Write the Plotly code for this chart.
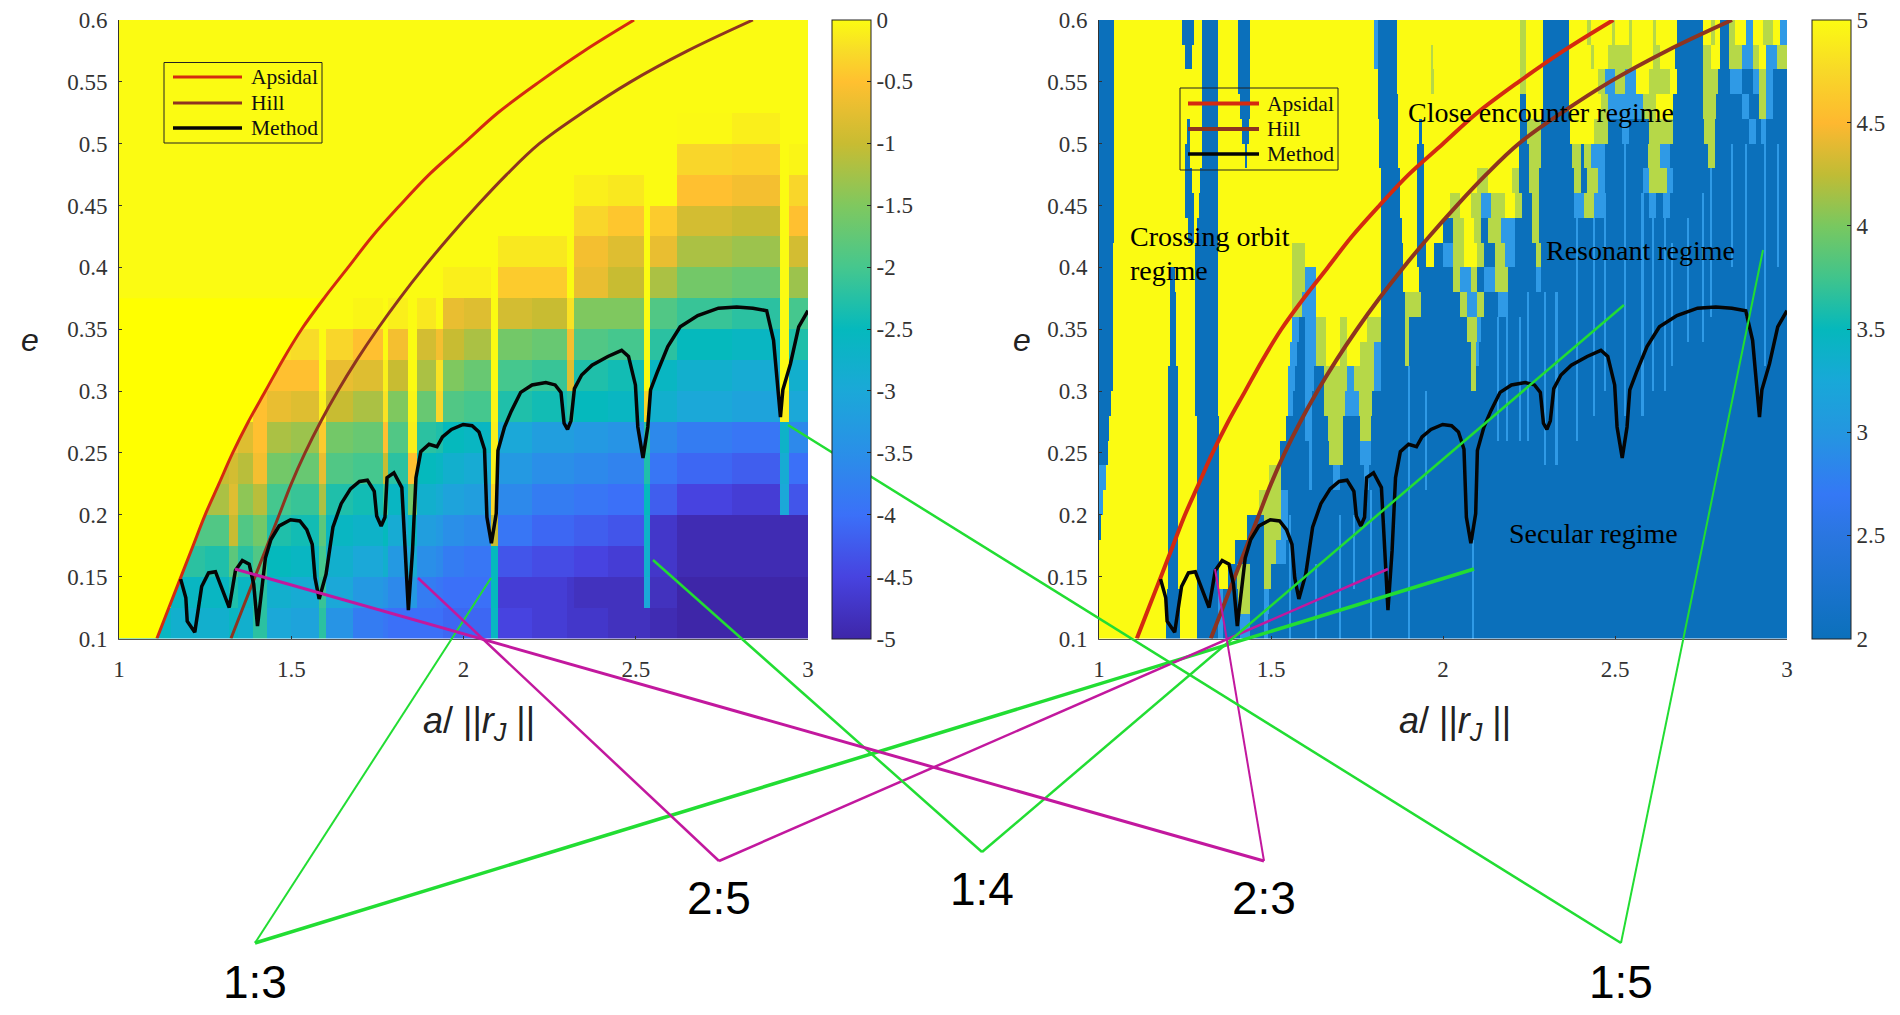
import plotly.graph_objects as go

WIDTH = 1900
HEIGHT = 1015

# boundary curves
APSIDAL_E = [0.1, 0.125, 0.15, 0.175, 0.2, 0.225, 0.25, 0.275, 0.3, 0.325, 0.35, 0.375, 0.4, 0.425, 0.45, 0.475, 0.5, 0.525, 0.55, 0.575, 0.6]
APSIDAL_A = [1.11, 1.145, 1.18, 1.215, 1.25, 1.29, 1.33, 1.375, 1.425, 1.475, 1.53, 1.595, 1.665, 1.735, 1.815, 1.9, 2.0, 2.1, 2.22, 2.35, 2.495]
HILL_E = APSIDAL_E
HILL_A = [1.325, 1.36, 1.395, 1.43, 1.465, 1.5, 1.54, 1.585, 1.635, 1.69, 1.75, 1.815, 1.885, 1.96, 2.04, 2.125, 2.22, 2.345, 2.485, 2.65, 2.84]

METHOD_A = [1.179, 1.194, 1.198, 1.22, 1.24, 1.26, 1.28, 1.302, 1.32, 1.338, 1.358, 1.378, 1.391, 1.402, 1.425, 1.441, 1.465, 1.498, 1.525, 1.545,
            1.561, 1.569, 1.581, 1.601, 1.621, 1.645, 1.672, 1.698, 1.721, 1.741, 1.748, 1.761, 1.772, 1.778, 1.798, 1.821, 1.83, 1.84, 1.852, 1.862,
            1.876, 1.9, 1.923, 1.939, 1.965, 1.999, 2.025, 2.045, 2.061, 2.068, 2.081, 2.095, 2.1, 2.119, 2.139, 2.166, 2.199, 2.239, 2.266, 2.283,
            2.292, 2.302, 2.312, 2.322, 2.343, 2.373, 2.419, 2.459, 2.479, 2.499, 2.506, 2.521, 2.535, 2.543, 2.562, 2.593, 2.629, 2.68, 2.74, 2.793,
            2.84, 2.88, 2.9, 2.907, 2.92, 2.927, 2.949, 2.973, 3.0]
METHOD_E = [0.148, 0.133, 0.114, 0.105, 0.142, 0.153, 0.154, 0.138, 0.125, 0.155, 0.163, 0.16, 0.144, 0.11, 0.165, 0.18, 0.191, 0.196, 0.195, 0.188,
            0.176, 0.149, 0.132, 0.152, 0.19, 0.209, 0.221, 0.227, 0.228, 0.219, 0.199, 0.191, 0.198, 0.23, 0.234, 0.222, 0.171, 0.123, 0.171, 0.23,
            0.251, 0.257, 0.255, 0.263, 0.269, 0.273, 0.272, 0.267, 0.253, 0.198, 0.177, 0.201, 0.252, 0.271, 0.284, 0.299, 0.305, 0.307, 0.305, 0.299,
            0.274, 0.269, 0.276, 0.302, 0.313, 0.321, 0.328, 0.333, 0.328, 0.305, 0.271, 0.246, 0.271, 0.301, 0.315, 0.336, 0.352, 0.361, 0.367, 0.368,
            0.367, 0.365, 0.341, 0.319, 0.279, 0.301, 0.322, 0.352, 0.365]

# left map: coarse grid, one row per line, bottom row first
LEFT_A = [1.0, 1.15, 1.25, 1.32, 1.345, 1.39, 1.43, 1.5, 1.58, 1.6, 1.68, 1.765, 1.78, 1.84, 1.865, 1.92, 1.94, 2.0, 2.08, 2.1, 2.2, 2.3, 2.32, 2.42, 2.525, 2.54, 2.62, 2.78, 2.92, 2.945, 3.0]
LEFT_E = [0.1, 0.125, 0.15, 0.175, 0.2, 0.225, 0.25, 0.275, 0.3, 0.325, 0.35, 0.375, 0.4, 0.425, 0.45, 0.475, 0.5, 0.525, 0.55, 0.575, 0.6]
LEFT_Z = [
    [-2.6, -2.8, -2.8, -2.6, -2.8, -2.2, -3.0, -3.1, -2.2, -3.4, -3.8, -3.9, -4.0, -4.0, -4.0, -4.0, -4.1, -4.1, -2.6, -4.5, -4.6, -4.7, -4.7, -4.8, -4.8, -4.9, -5.0, -5.0, -5.0, -5.0],
    [0, -2.6, -2.6, -2.3, -2.6, -2.2, -2.8, -2.9, -2.1, -3.0, -3.3, -3.4, -3.6, -3.3, -3.8, -3.9, -4.0, -4.0, -2.5, -4.6, -4.6, -4.7, -4.8, -4.8, -3.0, -4.8, -5.0, -5.0, -5.0, -5.0],
    [0, -2.2, -2.3, -1.8, -2.2, -1.9, -2.5, -2.6, -2.0, -2.8, -3.0, -2.8, -3.3, -2.9, -3.5, -3.6, -3.8, -3.9, -2.5, -4.3, -4.4, -4.4, -4.5, -4.6, -2.8, -4.7, -4.9, -4.9, -4.9, -4.9],
    [0, -1.9, -1.9, -1.0, -1.9, -1.6, -2.3, -2.4, -1.8, -2.6, -2.7, -2.5, -2.9, -2.6, -3.2, -3.3, -3.5, -3.6, -1.0, -3.9, -4.1, -4.1, -4.2, -4.3, -2.7, -4.7, -4.9, -4.9, -4.9, -4.9],
    [0, 0, -1.2, -0.8, -1.4, -1.1, -2.0, -2.1, -1.2, -2.3, -2.4, -2.0, -2.6, -1.6, -2.8, -2.9, -3.1, -3.2, -0.3, -3.6, -3.8, -3.8, -3.9, -4.0, -2.5, -4.2, -4.5, -4.6, -3.0, -4.3],
    [0, 0, -1.0, -0.9, -1.1, -0.6, -1.6, -1.7, -0.7, -1.9, -2.0, -1.0, -2.2, -0.5, -2.5, -2.6, -2.8, -2.9, -0.1, -3.3, -3.5, -3.5, -3.6, -3.7, -2.3, -3.9, -4.1, -4.2, -2.9, -4.0],
    [0, 0, 0, -0.6, -0.8, -0.5, -1.2, -1.3, -0.4, -1.6, -1.7, -0.5, -1.9, -0.1, -2.2, -2.3, -2.5, -2.6, -0.1, -3.0, -3.2, -3.2, -3.3, -3.4, -2.2, -3.6, -3.8, -3.9, -2.7, -3.6],
    [0, 0, 0, 0, 0, -0.5, -0.7, -0.8, -0.1, -1.0, -1.2, -0.2, -1.5, -0.05, -1.7, -0.3, -1.9, -2.0, -0.05, -2.3, -2.4, -2.2, -2.5, -2.6, -0.3, -2.8, -3.0, -3.1, -0.1, -3.0],
    [0, 0, 0, 0, 0, 0, -0.5, -0.5, 0, -0.7, -0.8, -0.1, -1.0, 0, -1.2, -0.2, -1.5, -1.7, 0, -2.0, -2.1, -0.8, -2.3, -2.4, 0, -2.6, -2.8, -2.9, 0, -2.8],
    [0, 0, 0, 0, 0, 0, -0.2, -0.25, 0, -0.3, -0.5, 0, -0.6, 0, -0.9, -0.6, -1.0, -1.2, 0, -1.6, -1.7, -0.6, -1.9, -2.0, 0, -2.2, -2.5, -2.6, 0, -2.3],
    [0, 0, 0, 0, 0, 0, 0, 0, 0, 0, -0.05, 0, -0.1, 0, -0.15, 0, -0.7, -0.8, 0, -0.9, -1.0, -0.2, -1.5, -1.5, 0, -1.9, -2.1, -2.2, 0, -2.0],
    [0, 0, 0, 0, 0, 0, 0, 0, 0, 0, 0, 0, 0, 0, 0, 0, -0.1, -0.1, 0, -0.4, -0.4, 0, -0.7, -1.0, 0, -1.2, -1.6, -1.7, 0, -1.3],
    [0, 0, 0, 0, 0, 0, 0, 0, 0, 0, 0, 0, 0, 0, 0, 0, 0, 0, 0, -0.15, -0.15, 0, -0.6, -0.8, 0, -0.7, -1.2, -1.3, 0, -0.9],
    [0, 0, 0, 0, 0, 0, 0, 0, 0, 0, 0, 0, 0, 0, 0, 0, 0, 0, 0, 0, 0, 0, -0.3, -0.45, 0, -0.4, -0.9, -1.0, 0, -0.5],
    [0, 0, 0, 0, 0, 0, 0, 0, 0, 0, 0, 0, 0, 0, 0, 0, 0, 0, 0, 0, 0, 0, -0.1, -0.15, 0, 0, -0.5, -0.6, 0, -0.3],
    [0, 0, 0, 0, 0, 0, 0, 0, 0, 0, 0, 0, 0, 0, 0, 0, 0, 0, 0, 0, 0, 0, 0, 0, 0, 0, -0.3, -0.35, 0, -0.05],
    [0, 0, 0, 0, 0, 0, 0, 0, 0, 0, 0, 0, 0, 0, 0, 0, 0, 0, 0, 0, 0, 0, 0, 0, 0, 0, -0.02, -0.1, 0, 0],
    [0] * 30,
    [0] * 30,
    [0] * 30,
]

# right map levels: deep blue, light blue, yellow-green speckle, yellow
B, L, G, Y = 2, 3, 4, 5

# right map: each row lists (a where the run ends, level), top row first, B after the last run
RIGHT_E = [0.6, 0.58, 0.56, 0.54, 0.52, 0.5, 0.48, 0.46, 0.44, 0.42, 0.4, 0.38, 0.36, 0.34, 0.32, 0.3, 0.28, 0.26, 0.24, 0.22, 0.2, 0.18, 0.16, 0.14, 0.12, 0.1]
RIGHT_ROWS = [
    [(1.045, B), (1.24, Y), (1.275, B), (1.3, Y), (1.345, B), (1.405, Y), (1.44, B), (1.8, Y), (1.81, L), (1.865, B), (2.225, Y), (2.24, G), (2.29, Y), (2.365, B), (2.42, Y), (2.43, G), (2.49, Y), (2.5, G), (2.54, Y), (2.55, G), (2.61, Y), (2.62, G), (2.68, Y), (2.757, B), (2.78, Y), (2.79, G), (2.805, Y), (2.83, B), (2.85, G), (2.88, Y), (2.9, L), (2.93, Y), (2.96, G), (2.98, Y), (3.0, L)],
    [(1.045, B), (1.25, Y), (1.27, B), (1.3, Y), (1.345, B), (1.405, Y), (1.44, B), (1.8, Y), (1.81, L), (1.865, B), (1.965, Y), (1.972, G), (2.225, Y), (2.24, G), (2.29, Y), (2.365, B), (2.43, Y), (2.44, G), (2.48, Y), (2.55, G), (2.61, Y), (2.63, G), (2.675, Y), (2.757, B), (2.78, G), (2.805, Y), (2.83, B), (2.87, G), (2.9, L), (2.92, G), (2.94, Y), (2.97, L), (3.0, G)],
    [(1.045, B), (1.3, Y), (1.345, B), (1.405, Y), (1.44, B), (1.81, Y), (1.865, B), (1.965, Y), (1.975, G), (2.225, Y), (2.24, G), (2.29, Y), (2.365, B), (2.45, Y), (2.47, G), (2.5, L), (2.53, G), (2.56, L), (2.6, Y), (2.66, G), (2.68, Y), (2.757, B), (2.8, G), (2.835, B), (2.87, L), (2.9, B), (2.92, L), (2.94, G), (2.96, L), (3.0, B)],
    [(1.045, B), (1.3, Y), (1.345, B), (1.41, Y), (1.44, B), (1.81, Y), (1.87, B), (2.225, Y), (2.24, B), (2.29, Y), (2.365, B), (2.46, Y), (2.48, G), (2.58, L), (2.62, G), (2.67, Y), (2.757, B), (2.795, G), (2.87, B), (2.89, L), (2.92, B), (2.94, G), (2.96, L)],
    [(1.045, B), (1.255, Y), (1.265, B), (1.3, Y), (1.345, B), (1.415, Y), (1.435, B), (1.815, Y), (1.87, B), (1.93, Y), (1.94, B), (2.225, Y), (2.245, B), (2.285, G), (2.37, B), (2.44, Y), (2.48, G), (2.52, B), (2.54, L), (2.6, B), (2.62, G), (2.67, G), (2.76, B), (2.79, G), (2.89, B), (2.91, L), (2.925, B), (2.94, L)],
    [(1.045, B), (1.25, Y), (1.265, B), (1.3, Y), (1.345, B), (1.425, Y), (1.43, B), (1.815, Y), (1.87, B), (1.925, Y), (1.945, B), (2.22, Y), (2.25, B), (2.285, G), (2.375, B), (2.4, G), (2.41, B), (2.43, G), (2.47, L), (2.595, B), (2.63, G), (2.66, L), (2.77, B), (2.79, G), (2.8, B)],
    [(1.045, B), (1.25, Y), (1.27, B), (1.295, Y), (1.345, B), (1.82, Y), (1.875, B), (1.925, Y), (1.945, B), (2.1, Y), (2.13, G), (2.2, Y), (2.22, G), (2.25, B), (2.28, G), (2.38, B), (2.4, G), (2.42, B), (2.45, G), (2.47, L), (2.58, B), (2.6, L), (2.65, G), (2.67, L)],
    [(1.045, B), (1.25, Y), (1.275, B), (1.29, Y), (1.345, B), (1.82, Y), (1.875, B), (1.925, Y), (1.945, B), (2.02, Y), (2.05, G), (2.08, Y), (2.11, G), (2.14, L), (2.18, G), (2.21, Y), (2.23, G), (2.26, B), (2.28, G), (2.38, B), (2.41, L), (2.44, G), (2.47, L), (2.6, B), (2.62, L), (2.64, B), (2.66, L)],
    [(1.045, B), (1.26, Y), (1.275, B), (1.285, Y), (1.345, B), (1.82, Y), (1.88, B), (1.925, Y), (1.945, B), (2.0, Y), (2.03, B), (2.06, G), (2.09, Y), (2.11, G), (2.13, B), (2.17, G), (2.21, L), (2.26, B), (2.28, G)],
    [(1.04, B), (1.28, Y), (1.345, B), (1.56, Y), (1.6, G), (1.63, Y), (1.82, Y), (1.885, B), (1.925, Y), (1.95, B), (1.975, Y), (2.0, B), (2.03, L), (2.06, G), (2.1, Y), (2.12, G), (2.15, B), (2.18, G), (2.21, L), (2.27, B), (2.285, G)],
    [(1.04, B), (1.205, Y), (1.22, B), (1.28, Y), (1.345, B), (1.56, Y), (1.6, G), (1.63, L), (1.82, Y), (1.885, B), (1.93, Y), (1.95, B), (2.03, B), (2.05, G), (2.08, L), (2.1, G), (2.12, B), (2.15, L), (2.19, G), (2.27, B), (2.285, L)],
    [(1.04, B), (1.205, Y), (1.225, B), (1.28, Y), (1.345, B), (1.56, Y), (1.59, G), (1.63, L), (1.82, Y), (1.89, B), (1.935, G), (1.95, B), (2.05, B), (2.07, G), (2.1, L), (2.12, G), (2.16, B), (2.19, L)],
    [(1.04, B), (1.205, Y), (1.225, B), (1.28, Y), (1.345, B), (1.56, Y), (1.58, L), (1.6, B), (1.63, L), (1.66, G), (1.7, Y), (1.72, G), (1.78, Y), (1.82, G), (1.89, B), (1.9, G), (1.91, B), (2.07, B), (2.1, G), (2.11, L)],
    [(1.04, B), (1.205, Y), (1.225, B), (1.28, Y), (1.345, B), (1.555, Y), (1.575, L), (1.6, B), (1.63, L), (1.66, G), (1.7, Y), (1.72, G), (1.76, Y), (1.8, G), (1.82, L), (1.89, B), (1.9, G), (1.91, B), (2.08, B), (2.095, G), (2.105, L)],
    [(1.04, B), (1.2, Y), (1.23, B), (1.28, Y), (1.345, B), (1.55, Y), (1.57, L), (1.6, B), (1.625, L), (1.655, B), (1.72, G), (1.74, L), (1.76, G), (1.8, G), (1.82, L), (1.9, B), (2.08, B), (2.095, G)],
    [(1.035, B), (1.2, Y), (1.23, B), (1.28, Y), (1.345, B), (1.55, Y), (1.565, L), (1.6, B), (1.62, L), (1.655, B), (1.715, G), (1.755, L), (1.795, G)],
    [(1.03, B), (1.2, Y), (1.23, B), (1.285, Y), (1.35, B), (1.545, Y), (1.6, B), (1.62, L), (1.665, B), (1.71, G), (1.76, B), (1.79, G)],
    [(1.025, B), (1.2, Y), (1.23, B), (1.285, Y), (1.35, B), (1.525, Y), (1.61, B), (1.62, L), (1.67, B), (1.71, G), (1.76, B), (1.79, L)],
    [(1.02, L), (1.2, Y), (1.23, B), (1.285, Y), (1.35, B), (1.495, Y), (1.53, G), (1.61, B), (1.62, L), (1.68, B), (1.7, L), (1.77, B), (1.785, L)],
    [(1.012, L), (1.2, Y), (1.23, B), (1.285, Y), (1.35, B), (1.465, Y), (1.53, G), (1.55, L)],
    [(1.005, B), (1.2, Y), (1.23, B), (1.285, Y), (1.35, B), (1.43, Y), (1.48, B), (1.53, G), (1.55, L)],
    [(1.2, Y), (1.23, B), (1.285, Y), (1.35, B), (1.395, Y), (1.48, B), (1.515, G), (1.545, L)],
    [(1.2, Y), (1.23, B), (1.285, Y), (1.35, B), (1.375, Y), (1.4, B), (1.44, G), (1.48, B), (1.5, G)],
    [(1.197, Y), (1.235, B), (1.285, Y), (1.345, B), (1.36, L), (1.405, B), (1.44, G), (1.48, B), (1.495, L)],
    [(1.195, Y), (1.235, B), (1.285, Y), (1.345, B), (1.36, L), (1.41, B), (1.44, L), (1.48, B), (1.49, L)],
]

# thin light rays on the right map
RAY_A = [1.555, 1.63, 1.7, 1.74, 1.79, 1.9, 1.95, 2.088, 2.16, 2.185, 2.224, 2.248, 2.297, 2.33, 2.39, 2.44, 2.47, 2.53, 2.58, 2.61, 2.645, 2.665, 2.713, 2.757, 2.78, 2.84, 2.88, 2.936, 2.975]
RAY_LO = [0.1, 0.1, 0.1, 0.14, 0.1, 0.1, 0.22, 0.11, 0.27, 0.27, 0.257, 0.257, 0.231, 0.237, 0.26, 0.28, 0.3, 0.285, 0.29, 0.31, 0.3, 0.322, 0.34, 0.34, 0.36, 0.4, 0.36, 0.322, 0.4]
RAY_HI = [0.2, 0.16, 0.2, 0.2, 0.22, 0.32, 0.3, 0.17, 0.36, 0.38, 0.36, 0.38, 0.38, 0.38, 0.44, 0.46, 0.46, 0.5, 0.46, 0.46, 0.46, 0.42, 0.44, 0.46, 0.52, 0.5, 0.5, 0.5, 0.5]
RAY_HALF_WIDTH = 0.003

AXIS_X = [1, 1.5, 2, 2.5, 3]
AXIS_X_TEXT = ["1", "1.5", "2", "2.5", "3"]
AXIS_Y = [0.1, 0.15, 0.2, 0.25, 0.3, 0.35, 0.4, 0.45, 0.5, 0.55, 0.6]
AXIS_Y_TEXT = ["0.1", "0.15", "0.2", "0.25", "0.3", "0.35", "0.4", "0.45", "0.5", "0.55", "0.6"]
LEFT_BAR_TICKS = [0, -0.5, -1, -1.5, -2, -2.5, -3, -3.5, -4, -4.5, -5]
LEFT_BAR_TEXT = ["0", "-0.5", "-1", "-1.5", "-2", "-2.5", "-3", "-3.5", "-4", "-4.5", "-5"]
RIGHT_BAR_TICKS = [2, 2.5, 3, 3.5, 4, 4.5, 5]
RIGHT_BAR_TEXT = ["2", "2.5", "3", "3.5", "4", "4.5", "5"]

LEFT_COLORS = [[0, "#3e26a8"], [0.1, "#4743e0"], [0.2, "#3b70f8"], [0.3, "#2a8fe8"], [0.4, "#1ba8d8"], [0.5, "#05b9bd"],
               [0.6, "#45c78e"], [0.7, "#7fc85f"], [0.8, "#c8bc32"], [0.9, "#ffc030"], [0.95, "#f8dc28"], [1, "#fbfb12"]]
RIGHT_COLORS = [[0, "#0b70bb"], [0.1667, "#2a76e0"], [0.2333, "#3478f5"], [0.3333, "#2496e0"], [0.4167, "#18a8d8"], [0.5, "#05b8bc"],
                [0.5833, "#40c48c"], [0.6667, "#78c860"], [0.75, "#c0bc35"], [0.8333, "#feb830"], [0.9167, "#f8d828"], [1, "#fbfb12"]]
# the speckled zones average to a colour that is not on the bar, so the map has its own four levels
RIGHT_MAP_COLORS = [[0, "#0b70bb"], [0.3333, "#2f9ae6"], [0.6667, "#b6d848"], [1, "#fbfb12"]]

# resonance leaders, page pixels: label, apex, left end, right end, colour, left width, right width
LEADERS = [
    ("1:3", (255, 943), (491, 578), (1474, 569), "#22dd33", 2, 3.5),
    ("2:5", (719, 861), (418, 578), (1388, 569), "#c2189e", 2.5, 2.5),
    ("1:4", (982, 852), (653, 560), (1624, 305), "#22dd33", 2.5, 2.5),
    ("2:3", (1264, 861), (235, 569), (1215, 569), "#c2189e", 3, 2),
    ("1:5", (1621, 943), (788, 425), (1763, 250), "#22dd33", 2.5, 2),
]
LABEL_CENTRES = [(255, 982), (719, 898), (982, 889), (1264, 898), (1621, 982)]

REGIME_TEXT = ["Close encounter regime", "Crossing orbit", "regime", "Resonant regime", "Secular regime"]
REGIME_POS = [(1406, 112), (1128, 236), (1128, 270), (1544, 250), (1507, 533)]

CURVE_NAMES = ["Apsidal", "Hill", "Method"]
CURVE_COLORS = ["#d42a10", "#8e3420", "#050505"]
LEFT_WIDTHS = [3, 3, 3.5]
RIGHT_WIDTHS = [4, 4, 3.5]

# legend boxes, page pixels: box corners, line start, line end, text start, row centres, line widths
LEGEND_BOXES = [
    ((164, 62.5), (322, 143), 173, 242, 248.5, [77, 103, 128], LEFT_WIDTHS),
    ((1180, 88), (1338, 170), 1188, 1259, 1265, [103.5, 129, 154], RIGHT_WIDTHS),
]

SERIF = "Liberation Serif, Times New Roman, serif"


def px(x, y):
    return x / WIDTH, 1 - y / HEIGHT


# build right map grid from the runs
ends = {1.0, 3.0}
for row in RIGHT_ROWS:
    ends.update(end for end, _ in row)
for a in RAY_A:
    ends.update([round(a - RAY_HALF_WIDTH, 4), round(a + RAY_HALF_WIDTH, 4)])
right_a = sorted(ends)

right_z = []
for i in range(len(RIGHT_ROWS) - 1, -1, -1):
    row = RIGHT_ROWS[i]
    e_mid = (RIGHT_E[i] + RIGHT_E[i + 1]) / 2
    cells = []
    for a0, a1 in zip(right_a[:-1], right_a[1:]):
        mid = (a0 + a1) / 2
        value = B
        for end, level in row:
            if mid < end:
                value = level
                break
        if value == B:
            for ray, lo, hi in zip(RAY_A, RAY_LO, RAY_HI):
                if abs(mid - ray) < RAY_HALF_WIDTH and lo <= e_mid <= hi:
                    value = L
        cells.append(value)
    right_z.append(cells)

fig = go.Figure()

bar_style = dict(xanchor="left", y=1 - 638.5 / HEIGHT, yanchor="bottom", len=618.5, lenmode="pixels",
                 thickness=39, thicknessmode="pixels", xpad=0, ypad=0, outlinecolor="#222222", outlinewidth=1,
                 tickmode="array", ticks="inside", ticklen=4, tickcolor="#222222",
                 tickfont=dict(family=SERIF, size=23, color="#333333"))

fig.add_trace(go.Heatmap(
    x=LEFT_A, y=LEFT_E, z=LEFT_Z, xaxis="x", yaxis="y", zmin=-5, zmax=0, colorscale=LEFT_COLORS, hoverinfo="skip",
    colorbar=dict(bar_style, x=832 / WIDTH, tickvals=LEFT_BAR_TICKS, ticktext=LEFT_BAR_TEXT),
))

# pure yellow wedge left of the apsidal curve
wedge_a = [1.0] + [a for a, e in zip(APSIDAL_A, APSIDAL_E) if e <= 0.375] + [1.0]
wedge_e = [0.1] + [e for e in APSIDAL_E if e <= 0.375] + [0.375]
fig.add_trace(go.Scatter(x=wedge_a, y=wedge_e, xaxis="x", yaxis="y", mode="lines", line=dict(width=0), fill="toself",
                         fillcolor="#ffff00", showlegend=False, hoverinfo="skip"))

fig.add_trace(go.Heatmap(
    x=right_a, y=RIGHT_E[::-1], z=right_z, xaxis="x2", yaxis="y2", zmin=2, zmax=5, colorscale=RIGHT_MAP_COLORS, hoverinfo="skip", showscale=False,
))

# colour bar of the right map
fig.add_trace(go.Scatter(
    x=[None], y=[None], xaxis="x2", yaxis="y2", mode="markers", showlegend=False, hoverinfo="skip",
    marker=dict(color=[2], cmin=2, cmax=5, colorscale=RIGHT_COLORS, showscale=True,
                colorbar=dict(bar_style, x=1812 / WIDTH, tickvals=RIGHT_BAR_TICKS, ticktext=RIGHT_BAR_TEXT)),
))

curve_a = [APSIDAL_A, HILL_A, METHOD_A]
curve_e = [APSIDAL_E, HILL_E, METHOD_E]
curve_shape = ["spline", "spline", "linear"]
for xa, ya, widths in [("x", "y", LEFT_WIDTHS), ("x2", "y2", RIGHT_WIDTHS)]:
    for name, a, e, color, lw, shape in zip(CURVE_NAMES, curve_a, curve_e, CURVE_COLORS, widths, curve_shape):
        fig.add_trace(go.Scatter(x=a, y=e, xaxis=xa, yaxis=ya, mode="lines", name=name, showlegend=False,
                                 line=dict(color=color, width=lw, shape=shape), hoverinfo="skip"))

shapes = []
annotations = []
for label, apex, left, right, color, w_left, w_right in LEADERS:
    for end, lw in [(left, w_left), (right, w_right)]:
        x0, y0 = px(*apex)
        x1, y1 = px(*end)
        shapes.append(dict(type="line", xref="paper", yref="paper", x0=x0, y0=y0, x1=x1, y1=y1, line=dict(color=color, width=lw), layer="above"))

for (label, *_), (cx, cy) in zip(LEADERS, LABEL_CENTRES):
    x, y = px(cx, cy)
    annotations.append(dict(text=label, x=x, y=y, xref="paper", yref="paper", xanchor="center", yanchor="middle", showarrow=False,
                            font=dict(family="Liberation Sans", size=46, color="#000000")))

for text, (tx, ty) in zip(REGIME_TEXT, REGIME_POS):
    x, y = px(tx, ty)
    annotations.append(dict(text=text, x=x, y=y, xref="paper", yref="paper", xanchor="left", yanchor="middle", showarrow=False,
                            font=dict(family=SERIF, size=28, color="#000000")))

for corner0, corner1, line_x0, line_x1, text_x, rows, widths in LEGEND_BOXES:
    x0, y0 = px(*corner0)
    x1, y1 = px(*corner1)
    shapes.append(dict(type="rect", xref="paper", yref="paper", x0=x0, y0=y0, x1=x1, y1=y1, line=dict(color="#222222", width=1), layer="above"))
    for name, color, lw, row_y in zip(CURVE_NAMES, CURVE_COLORS, widths, rows):
        lx0, ly = px(line_x0, row_y)
        lx1, _ = px(line_x1, row_y)
        shapes.append(dict(type="line", xref="paper", yref="paper", x0=lx0, y0=ly, x1=lx1, y1=ly, line=dict(color=color, width=lw), layer="above"))
        tx, ty = px(text_x, row_y)
        annotations.append(dict(text=name, x=tx, y=ty, xref="paper", yref="paper", xanchor="left", yanchor="middle", showarrow=False,
                                font=dict(family=SERIF, size=21.5, color="#111111")))

for cx in [479, 1455]:
    x, y = px(cx, 723)
    annotations.append(dict(text="<i>a</i>/ ||<i>r<sub>J</sub></i> ||", x=x, y=y, xref="paper", yref="paper", xanchor="center", yanchor="middle",
                            showarrow=False, font=dict(family="Liberation Sans", size=36, color="#222222")))

for cx in [30, 1022]:
    x, y = px(cx, 340)
    annotations.append(dict(text="<i>e</i>", x=x, y=y, xref="paper", yref="paper", xanchor="center", yanchor="middle",
                            showarrow=False, font=dict(family="Liberation Sans", size=32, color="#222222")))

x_axis = dict(range=[1, 3], tickmode="array", tickvals=AXIS_X, ticktext=AXIS_X_TEXT, ticks="inside", ticklen=3, tickcolor="#333333",
              showline=True, linecolor="#555555", linewidth=1, showgrid=False, zeroline=False, ticklabelstandoff=10,
              tickfont=dict(family=SERIF, size=23, color="#333333"))
y_axis = dict(range=[0.1, 0.6], tickmode="array", tickvals=AXIS_Y, ticktext=AXIS_Y_TEXT, ticks="inside", ticklen=3, tickcolor="#333333",
              showline=True, linecolor="#333333", linewidth=1, showgrid=False, zeroline=False, ticklabelstandoff=6,
              tickfont=dict(family=SERIF, size=23, color="#333333"))

fig.update_layout(
    width=WIDTH,
    height=HEIGHT,
    autosize=False,
    margin=dict(l=0, r=0, t=0, b=0, autoexpand=False),
    paper_bgcolor="white",
    plot_bgcolor="white",
    showlegend=False,
    xaxis=dict(x_axis, domain=[119 / WIDTH, 808 / WIDTH], anchor="y"),
    yaxis=dict(y_axis, domain=[1 - 638.5 / HEIGHT, 1 - 20 / HEIGHT], anchor="x"),
    xaxis2=dict(x_axis, domain=[1099 / WIDTH, 1787 / WIDTH], anchor="y2"),
    yaxis2=dict(y_axis, domain=[1 - 638.5 / HEIGHT, 1 - 20 / HEIGHT], anchor="x2"),
    shapes=shapes,
    annotations=annotations,
)

fig.write_html("out.html", config=dict(displayModeBar=False), post_script="document.body.style.margin='0';")
